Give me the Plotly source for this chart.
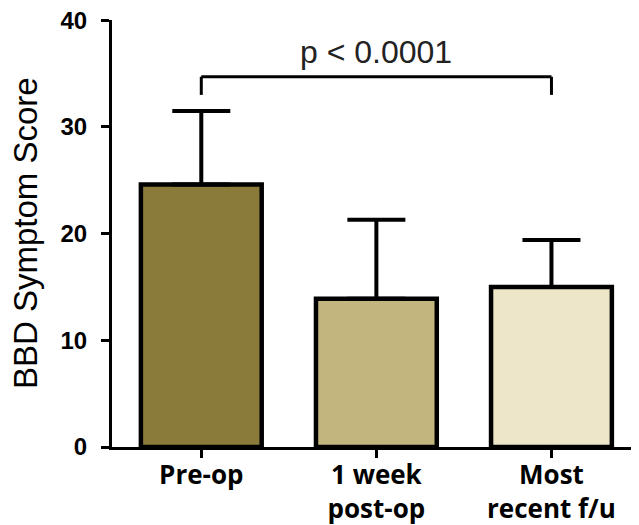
import plotly.graph_objects as go

categories = ["Pre-op", "1 week<br>post-op", "Most<br>recent f/u"]
means = [24.6, 13.9, 15.0]
sd_upper = [6.9, 7.4, 4.4]
colors = ["#8B7B3A", "#C2B57E", "#EDE6C8"]
y_ticks = [0, 10, 20, 30, 40]
y_title = "BBD Symptom Score"
sig_text = "p < 0.0001"
sig_level = 34.7
sig_drop = 1.7

fig = go.Figure()
fig.add_trace(go.Bar(
    x=list(range(len(categories))), y=means,
    marker=dict(color=colors, line=dict(color="black", width=4.5)),
    width=0.69,
    error_y=dict(type="data", symmetric=False, array=sd_upper,
                 arrayminus=[0] * len(means), color="black",
                 thickness=4, width=29),
))

# significance bracket
fig.add_shape(type="line", xref="x", yref="y", x0=0, x1=2, y0=sig_level, y1=sig_level,
              line=dict(color="black", width=3))
fig.add_shape(type="line", xref="x", yref="y", x0=0, x1=0, y0=sig_level, y1=sig_level - sig_drop,
              line=dict(color="black", width=3))
fig.add_shape(type="line", xref="x", yref="y", x0=2, x1=2, y0=sig_level, y1=sig_level - sig_drop,
              line=dict(color="black", width=3))
fig.add_annotation(x=1, y=sig_level, xref="x", yref="y", text=sig_text, showarrow=False,
                   yanchor="bottom", yshift=5,
                   font=dict(family="Liberation Sans, Arial", size=32, color="#222"))

# y-axis title
fig.add_annotation(x=-0.164, y=0.5, xref="paper", yref="paper", text=y_title,
                   showarrow=False, textangle=-90, xanchor="center", yanchor="middle",
                   borderpad=0,
                   font=dict(family="Liberation Sans, Arial", size=33, color="black"))

fig.update_layout(
    width=631, height=517,
    margin=dict(l=104, r=0, t=12, b=78),
    paper_bgcolor="white", plot_bgcolor="white",
    showlegend=False,
    xaxis=dict(
        range=[-0.51, 2.5], automargin=False,
        tickmode="array", tickvals=list(range(len(categories))), ticktext=categories,
        showline=True, linecolor="black", linewidth=3,
        ticks="outside", ticklen=8, tickwidth=3, tickcolor="black",
        ticklabelstandoff=-5,
        showgrid=False, zeroline=False,
        tickfont=dict(family="Open Sans", size=26, color="black", weight="bold"),
    ),
    yaxis=dict(
        range=[0, 40.02], automargin=False,
        tickmode="array", tickvals=y_ticks,
        showline=True, linecolor="black", linewidth=3,
        ticks="outside", ticklen=8, tickwidth=3, tickcolor="black",
        ticklabeloverflow="allow", ticklabelstandoff=9,
        showgrid=False, zeroline=False,
        tickfont=dict(family="Liberation Sans, Arial", size=24, color="black", weight="bold"),
    ),
)

fig.write_html("out.html")
